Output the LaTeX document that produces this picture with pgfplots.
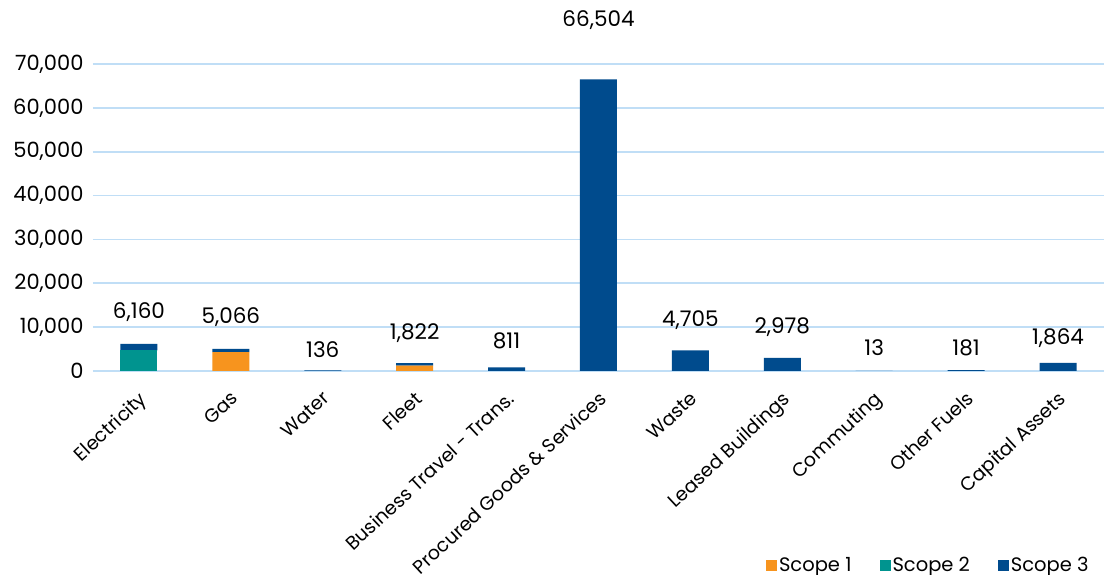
\documentclass[border=0pt]{standalone}
\usepackage{pgfplots}
\pgfplotsset{compat=1.18}
\usepackage{fontspec}
\setmainfont{Poppins}
\definecolor{sone}{RGB}{247,148,30}
\definecolor{stwo}{RGB}{0,148,143}
\definecolor{sthree}{RGB}{0,75,141}
\definecolor{gridblue}{RGB}{192,222,246}
\tikzset{lbl/.style={font=\fontsize{21.5}{21.5}\selectfont, anchor=center}}
\begin{document}
\begin{tikzpicture}[x=1pt,y=1pt]
\path[use as bounding box, fill=white] (0,0) rectangle (1109,575);
\begin{axis}[
  at={(93pt,204pt)}, anchor=south west,
  width=1011pt, height=307pt, scale only axis,
  xmin=-0.5, xmax=10.5, ymin=0, ymax=70000,
  ybar stacked, bar width=37pt,
  axis line style={draw=none},
  major tick length=0pt,
  ymajorgrids, grid style={color=gridblue, line width=1.8pt},
  ytick={0,10000,...,70000},
  scaled y ticks=false,
  /pgf/number format/assume math mode=true,
  yticklabel style={/pgf/number format/.cd, fixed, 1000 sep={,}, /tikz/.cd, xshift=-6pt, font=\fontsize{21}{21}\selectfont},
  xtick={0,...,10},
  xticklabels={Electricity,Gas,Water,Fleet,Business Travel - Trans.,Procured Goods \& Services,Waste,Leased Buildings,Commuting,Other Fuels,Capital Assets},
  xticklabel style={xshift=-1pt, yshift=-19pt, rotate=43, anchor=north east, inner sep=0pt, font=\fontsize{19}{19}\selectfont},
  tick label style={text=black},
  clip=false,
  legend style={at={(0.99,-0.632)}, anchor=east, draw=none, fill=none, legend columns=3,
    font=\fontsize{19.5}{19.5}\selectfont,
    /tikz/every even column/.append style={column sep=26pt}},
  legend image code/.code={\fill[#1] (2pt,-5.5pt) rectangle (13pt,5.5pt);},
]
\addplot[fill=sone, draw=none] coordinates {(0,0) (1,4330) (2,0) (3,1220) (4,0) (5,0) (6,0) (7,0) (8,0) (9,0) (10,0)};
\addlegendentry{Scope 1}
\addplot[fill=stwo, draw=none] coordinates {(0,4730) (1,0) (2,0) (3,0) (4,0) (5,0) (6,0) (7,0) (8,0) (9,0) (10,0)};
\addlegendentry{Scope 2}
\addplot[fill=sthree, draw=none] coordinates {(0,1430) (1,736) (2,136) (3,602) (4,811) (5,66504) (6,4705) (7,2978) (8,13) (9,181) (10,1864)};
\addlegendentry{Scope 3}
\node[lbl, yshift=32pt] at (axis cs:0,6160) {6,160};
\node[lbl, yshift=32pt] at (axis cs:1,5066) {5,066};
\node[lbl, yshift=21pt] at (axis cs:2,136) {136};
\node[lbl, yshift=30pt] at (axis cs:3,1822) {1,822};
\node[lbl, yshift=27pt] at (axis cs:4,811) {811};
\node[lbl, yshift=59pt] at (axis cs:5,66504) {66,504};
\node[lbl, yshift=30pt] at (axis cs:6,4705) {4,705};
\node[lbl, yshift=31pt] at (axis cs:7,2978) {2,978};
\node[lbl, yshift=23pt] at (axis cs:8,13) {13};
\node[lbl, yshift=22pt] at (axis cs:9,181) {181};
\node[lbl, yshift=25pt] at (axis cs:10,1864) {1,864};
\end{axis}
\end{tikzpicture}
\end{document}
